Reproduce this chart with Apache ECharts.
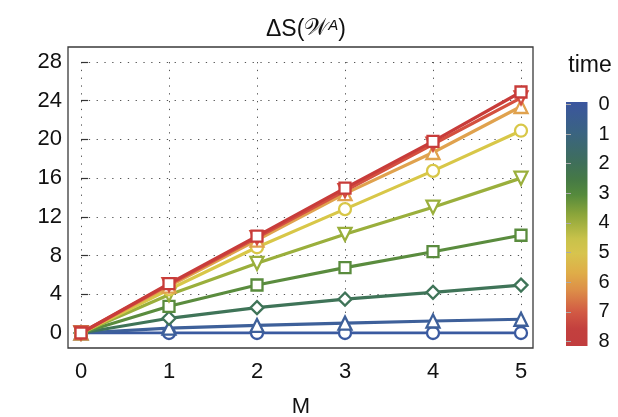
<!DOCTYPE html>
<html>
<head>
<meta charset="utf-8">
<script src="https://cdn.jsdelivr.net/npm/echarts@6/dist/echarts.min.js"></script>
<style>
  html, body { margin: 0; padding: 0; background: #fff; }
  #chart { width: 618px; height: 417px; }
</style>
</head>
<body>
<div id="chart"></div>
<script>
// M values on the horizontal axis
const mValues = [0, 1, 2, 3, 4, 5];

// Entropy change for each time step (rows: time 0..8)
const time0 = [0, 0, 0, 0, 0, 0];
const time1 = [0, 0.5, 0.78, 1.02, 1.24, 1.42];
const time2 = [0, 1.52, 2.62, 3.5, 4.2, 4.95];
const time3 = [0, 2.76, 4.96, 6.76, 8.4, 10.1];
const time4 = [0, 3.95, 7.2, 10.2, 13.0, 16.0];
const time5 = [0, 4.5, 8.86, 12.8, 16.75, 20.9];
const time6 = [0, 4.85, 9.6, 14.4, 18.65, 23.4];
const time7 = [0, 5.0, 9.85, 14.7, 19.5, 24.3];
const time8 = [0, 5.1, 10.0, 14.96, 19.8, 24.9];

const timeSeries = [time0, time1, time2, time3, time4, time5, time6, time7, time8];
const timeLabels = [0, 1, 2, 3, 4, 5, 6, 7, 8];
const yTicks = [0, 4, 8, 12, 16, 20, 24, 28];

// colour per time step, sampled from the colour bar
const timeColors = ['#3a5aa0', '#3e609a', '#3f7458', '#5a8c3e', '#9aaf3c',
                    '#d8c748', '#e0a24e', '#d4503f', '#c83c3a'];
// marker per time step: [symbol, size, rotation]
const timeMarkers = [
  ['circle', 12, 0], ['triangle', 13, 0], ['diamond', 13, 0], ['rect', 11, 0],
  ['triangle', 13, 180], ['circle', 12, 0], ['triangle', 13, 0], ['triangle', 13, 180],
  ['rect', 11, 0]
];

const FONT = '"Liberation Sans", Arial, Helvetica, sans-serif';

const chart = echarts.init(document.getElementById('chart'), null, { renderer: 'canvas' });

const series = timeSeries.map((vals, t) => ({
  name: 'time ' + timeLabels[t],
  type: 'line',
  xAxisIndex: 0,
  yAxisIndex: 0,
  data: vals.map((v, i) => [mValues[i], v]),
  symbol: timeMarkers[t][0],
  symbolSize: timeMarkers[t][1],
  symbolRotate: timeMarkers[t][2],
  showAllSymbol: true,
  lineStyle: { color: timeColors[t], width: 3.2 },
  itemStyle: { color: '#fff', borderColor: timeColors[t], borderWidth: 2.3 },
  z: 2 + t,
  animation: false
}));

const dotted = { color: '#555', width: 1, type: [1.3, 6.5] };

chart.setOption({
  animation: false,
  backgroundColor: '#fff',
  title: [
    {
      text: '{n|ΔS(}{w|𝒲}{s|A}{n|)}',
      left: 301, top: 13, textAlign: 'center',
      textStyle: {
        fontWeight: 'normal',
        rich: {
          n: { fontFamily: FONT, fontSize: 23, fontWeight: 'normal', color: '#111' },
          w: { fontFamily: 'DejaVu Serif, "Noto Sans", serif', fontSize: 23, fontWeight: 'normal', color: '#111' },
          s: { fontFamily: FONT, fontSize: 15, fontWeight: 'normal', fontStyle: 'italic', color: '#111', verticalAlign: 'top' }
        }
      }
    },
    {
      text: 'time', left: 585, top: 49, textAlign: 'center',
      textStyle: { fontFamily: FONT, fontSize: 23, fontWeight: 'normal', color: '#111' }
    }
  ],
  grid: [
    // data area
    { left: 81, top: 62, width: 440, height: 271, show: false, outerBoundsMode: 'none' },
    // plot frame
    { left: 68, top: 47, width: 465, height: 301, show: true, borderColor: '#3a3a3a', borderWidth: 1.3,
      backgroundColor: 'transparent', outerBoundsMode: 'none' },
    // colour bar
    {
      left: 566, top: 102, width: 21.5, height: 244, show: true, borderWidth: 0, outerBoundsMode: 'none',
      backgroundColor: new echarts.graphic.LinearGradient(0, 0, 0, 1, [
        { offset: 0.00, color: '#3b559f' },
        { offset: 0.12, color: '#3a6383' },
        { offset: 0.25, color: '#3f6f5a' },
        { offset: 0.32, color: '#467a45' },
        { offset: 0.38, color: '#558a3c' },
        { offset: 0.46, color: '#8ba53a' },
        { offset: 0.56, color: '#c8c24a' },
        { offset: 0.62, color: '#d7c44e' },
        { offset: 0.70, color: '#dfad48' },
        { offset: 0.77, color: '#dd8f48' },
        { offset: 0.86, color: '#d25a44' },
        { offset: 0.93, color: '#c3403e' },
        { offset: 1.00, color: '#c13d3e' }
      ])
    }
  ],
  xAxis: [
    {
      gridIndex: 0, type: 'value', min: 0, max: 5, interval: 1, offset: 15,
      axisLine: { show: false },
      axisTick: { show: true, inside: true, length: 7, lineStyle: { color: '#333', width: 1.2 } },
      axisLabel: { fontFamily: FONT, fontSize: 22, color: '#111', margin: 13 },
      splitLine: { show: true, lineStyle: dotted },
      name: 'M', nameLocation: 'middle', nameGap: 48,
      nameTextStyle: { fontFamily: FONT, fontSize: 22, color: '#111' }
    },
    { gridIndex: 1, type: 'value', min: 0, max: 1, show: false },
    { gridIndex: 2, type: 'value', min: 0, max: 1, show: false }
  ],
  yAxis: [
    {
      gridIndex: 0, type: 'value', min: 0, max: 28, interval: 4, offset: 13,
      axisLine: { show: false },
      axisTick: { show: true, inside: true, length: 7, lineStyle: { color: '#333', width: 1.2 } },
      axisLabel: { fontFamily: FONT, fontSize: 22, color: '#111', margin: 6,
                   customValues: yTicks },
      splitLine: { show: true, lineStyle: dotted }
    },
    { gridIndex: 1, type: 'value', min: 0, max: 1, show: false },
    {
      gridIndex: 2, type: 'value', inverse: true, position: 'right',
      min: -0.08, max: 8.15,
      axisLine: { show: false },
      axisTick: { show: true, inside: false, length: 5, customValues: timeLabels,
                  lineStyle: { color: '#aaa', width: 1 } },
      axisLabel: { show: true, customValues: timeLabels, fontFamily: FONT, fontSize: 20,
                   color: '#111', margin: 11 },
      splitLine: { show: false }
    }
  ],
  series: series
});
</script>
</body>
</html>
